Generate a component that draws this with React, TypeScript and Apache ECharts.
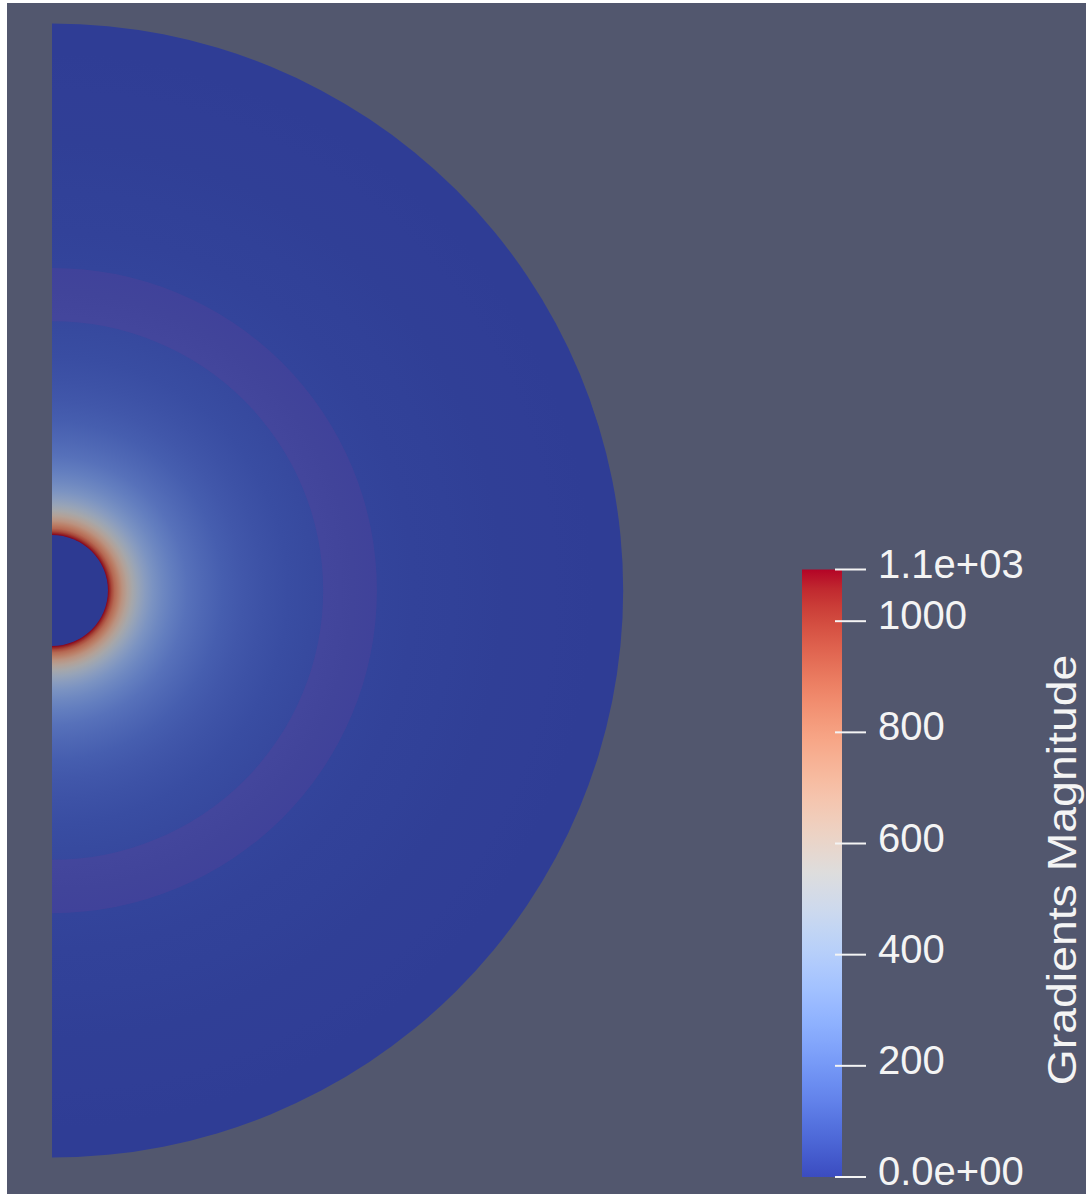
import React, { useEffect, useRef } from "react";
import * as echarts from "echarts";

// Radial profile (outer radius = 10 units)
const ringRadius = [0.98, 1.02, 1.05, 1.1, 1.16, 1.23, 1.32, 1.41, 1.51, 1.63, 1.76, 1.93, 2.11, 2.37, 2.64, 2.99, 3.34, 3.69, 4.13, 4.57, 4.83, 5.27, 5.71, 6.33, 7.03, 7.91, 8.79, 9.49, 10.0];
const ringValue = [1093, 1020, 950, 860, 790, 700, 610, 535, 465, 395, 340, 285, 240, 190, 155, 120, 96, 78, 62, 51, 46, 38, 33, 27, 22, 17, 14, 12, 11];
const holeRadius = 0.98;
const holeValue = 0;
const shellRange = [4.75, 5.69];
const rangeMin = 0;
const rangeMax = 1093;
const tickValues = [0, 200, 400, 600, 800, 1000, 1093];
const tickLabels = ["0.0e+00", "200", "400", "600", "800", "1000", "1.1e+03"];
const titleText = "Gradients Magnitude";

// ParaView "Cool to Warm" colormap
const COOLWARM: number[][] = [
  [0.0, 59, 76, 192], [0.03125, 68, 90, 204], [0.0625, 77, 104, 215], [0.09375, 87, 117, 225],
  [0.125, 98, 130, 234], [0.15625, 108, 142, 241], [0.1875, 119, 154, 247], [0.21875, 130, 165, 251],
  [0.25, 141, 176, 254], [0.28125, 152, 185, 255], [0.3125, 163, 194, 255], [0.34375, 174, 201, 253],
  [0.375, 184, 208, 249], [0.40625, 194, 213, 244], [0.4375, 204, 217, 238], [0.46875, 213, 219, 230],
  [0.5, 221, 221, 221], [0.53125, 229, 216, 209], [0.5625, 236, 211, 197], [0.59375, 241, 204, 185],
  [0.625, 245, 196, 173], [0.65625, 247, 187, 160], [0.6875, 247, 177, 148], [0.71875, 247, 166, 135],
  [0.75, 244, 154, 123], [0.78125, 241, 141, 111], [0.8125, 236, 127, 99], [0.84375, 229, 112, 88],
  [0.875, 222, 96, 77], [0.90625, 213, 80, 66], [0.9375, 203, 62, 56], [0.96875, 192, 40, 47],
  [1.0, 180, 4, 38],
];
const SHADE = 0.76;
const BG = "#52576E";
const FONT = '"Liberation Sans", Arial, sans-serif';

function coolwarm(t: number): number[] {
  const tt = Math.max(0, Math.min(1, t));
  for (let i = 1; i < COOLWARM.length; i++) {
    const a = COOLWARM[i - 1];
    const b = COOLWARM[i];
    if (tt <= b[0]) {
      const f = (tt - a[0]) / (b[0] - a[0]);
      return [a[1] + (b[1] - a[1]) * f, a[2] + (b[2] - a[2]) * f, a[3] + (b[3] - a[3]) * f];
    }
  }
  const l = COOLWARM[COOLWARM.length - 1];
  return [l[1], l[2], l[3]];
}
function colorOf(v: number, k = 1): string {
  const c = coolwarm((v - rangeMin) / (rangeMax - rangeMin));
  return `rgb(${Math.round(c[0] * k)},${Math.round(c[1] * k)},${Math.round(c[2] * k)})`;
}

// half-annulus in data space: horizontal radius from the x scale, vertical from the y scale
function halfDisk(api: any, rOuter: number) {
  const c = api.coord([0, 0]);
  const rx = api.coord([rOuter, 0])[0] - c[0];
  const ry = c[1] - api.coord([0, rOuter])[1];
  return { c, rx, sy: ry / rx };
}

export default function App() {
  const ref = useRef<HTMLDivElement>(null);
  useEffect(() => {
    if (!ref.current) return;
    const chart = echarts.init(ref.current, null, { renderer: "svg" });

    const rings: number[][] = [[0, holeRadius, holeValue, holeValue]];
    for (let i = 0; i < ringRadius.length - 1; i++) {
      rings.push([ringRadius[i], ringRadius[i + 1], ringValue[i], ringValue[i + 1]]);
    }
    const ticks = tickValues.map((v, i) => [v, i]);

    const option: any = {
      animation: false,
      backgroundColor: BG,
      grid: [
        { left: 45, top: 20.5, width: 571, height: 1134 },
        { left: 795, top: 566.5, width: 40, height: 607.5 },
      ],
      xAxis: [
        { type: "value", gridIndex: 0, min: 0, max: 10, show: false },
        { type: "value", gridIndex: 1, min: 0, max: 1, show: false },
      ],
      yAxis: [
        { type: "value", gridIndex: 0, min: -10, max: 10, show: false },
        { type: "value", gridIndex: 1, min: rangeMin, max: rangeMax, show: false },
      ],
      graphic: [
        {
          type: "text",
          x: 1055,
          y: 867,
          rotation: Math.PI / 2,
          scaleX: 1.16,
          style: {
            text: titleText,
            fill: "#f4f4f4",
            font: `40px ${FONT}`,
            align: "center",
            verticalAlign: "middle",
          },
        },
      ],
      series: [
        {
          type: "custom",
          name: "field",
          xAxisIndex: 0,
          yAxisIndex: 0,
          silent: true,
          data: rings,
          renderItem: (params: any, api: any) => {
            const r0 = api.value(0);
            const r1 = api.value(1);
            const v0 = api.value(2);
            const v1 = api.value(3);
            const { c, rx, sy } = halfDisk(api, r1);
            const R0 = api.coord([r0, 0])[0] - c[0];
            const fill = new echarts.graphic.RadialGradient(
              c[0], c[1], rx,
              [
                { offset: Math.max(0, R0 / rx), color: colorOf(v0, SHADE) },
                { offset: 1, color: colorOf(v1, SHADE) },
              ],
              true
            );
            return {
              type: "sector",
              z2: 500 - params.dataIndex,
              originX: c[0],
              originY: c[1],
              scaleY: sy,
              shape: { cx: c[0], cy: c[1], r0: 0, r: rx, startAngle: -Math.PI / 2, endAngle: Math.PI / 2, clockwise: true },
              style: { fill },
            };
          },
        },
        {
          type: "custom",
          name: "shell",
          xAxisIndex: 0,
          yAxisIndex: 0,
          silent: true,
          z: 3,
          data: [shellRange],
          renderItem: (params: any, api: any) => {
            const { c, rx, sy } = halfDisk(api, api.value(1));
            const R0 = api.coord([api.value(0), 0])[0] - c[0];
            return {
              type: "sector",
              originX: c[0],
              originY: c[1],
              scaleY: sy,
              shape: { cx: c[0], cy: c[1], r0: R0, r: rx, startAngle: -Math.PI / 2, endAngle: Math.PI / 2, clockwise: true },
              style: { fill: "rgba(128,60,150,0.18)" },
            };
          },
        },
        {
          type: "custom",
          name: "colorbar",
          xAxisIndex: 1,
          yAxisIndex: 1,
          silent: true,
          data: [[rangeMin, rangeMax]],
          renderItem: (params: any, api: any) => {
            const p0 = api.coord([0, api.value(0)]);
            const p1 = api.coord([1, api.value(1)]);
            const stops = COOLWARM.map((s) => ({ offset: s[0], color: `rgb(${s[1]},${s[2]},${s[3]})` }));
            return {
              type: "rect",
              shape: { x: p0[0], y: p1[1], width: p1[0] - p0[0], height: p0[1] - p1[1] },
              style: { fill: new echarts.graphic.LinearGradient(0, 1, 0, 0, stops) },
            };
          },
        },
        {
          type: "custom",
          name: "colorbarTicks",
          xAxisIndex: 1,
          yAxisIndex: 1,
          silent: true,
          z: 5,
          clip: false,
          data: ticks,
          renderItem: (params: any, api: any) => {
            const p = api.coord([1, api.value(0)]);
            const label = tickLabels[api.value(1)];
            return {
              type: "group",
              children: [
                {
                  type: "line",
                  shape: { x1: p[0] - 7, y1: p[1], x2: p[0] + 24, y2: p[1] },
                  style: { stroke: "#f4f4f4", lineWidth: 2 },
                },
                {
                  type: "text",
                  x: p[0] + 36,
                  y: p[1] - 6,
                  style: {
                    text: label,
                    fill: "#f4f4f4",
                    font: `40px ${FONT}`,
                    align: "left",
                    verticalAlign: "middle",
                  },
                },
              ],
            };
          },
        },
      ],
    };
    chart.setOption(option);
    return () => chart.dispose();
  }, []);
  return (
    <div
      ref={ref}
      style={{ position: "absolute", left: 7, top: 3, width: 1079, height: 1191 }}
    />
  );
}
